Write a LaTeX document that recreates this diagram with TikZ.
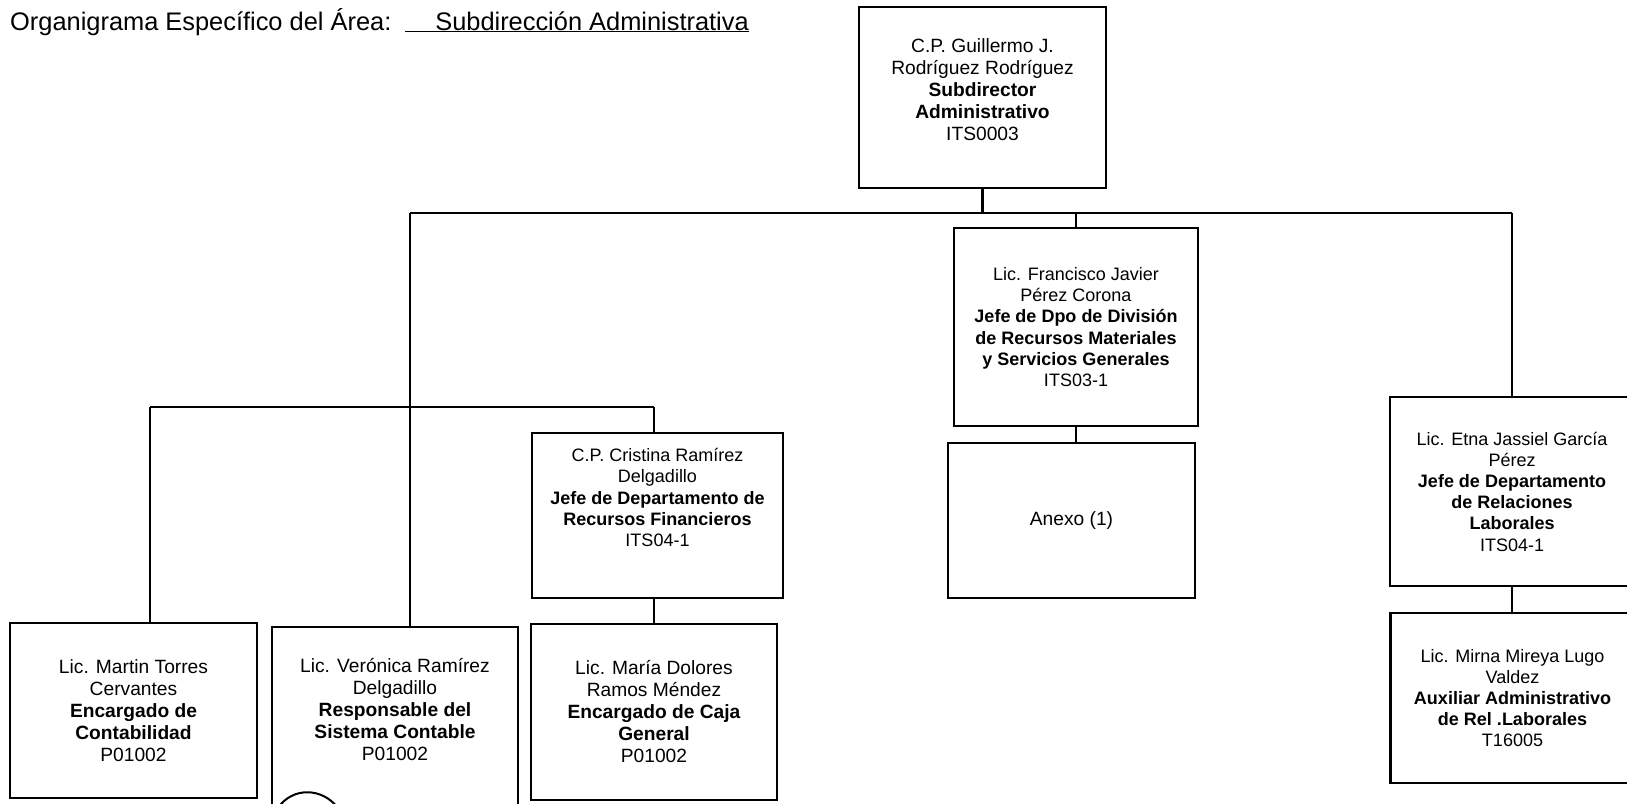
\documentclass[tikz,border=0pt]{standalone}
\usepackage{fontspec}
\setmainfont{Liberation Sans}
\begin{document}
\begin{tikzpicture}[x=1pt,y=-1pt,
  box/.style={draw=black, line width=2.7pt, rectangle, inner sep=0pt, align=center},
  conn/.style={draw=black, line width=1.9pt},
  fa/.style={font=\fontsize{19.2}{22}\selectfont},
  fb/.style={font=\fontsize{18}{21.2}\selectfont}]
\useasboundingbox (0,0) rectangle (1627,803);
\clip (0,0) rectangle (1627,803);
\fill[white] (0,0) rectangle (1627,803);

% title
\node[anchor=base west, inner sep=0pt, font=\fontsize{25.4}{30}\selectfont] (title) at (10,30)
  {Organigrama Específico del Área:\hspace{14pt}\underline{\hspace{30pt}Subdirección Administrativa}};

% boxes
\node[box, minimum width=247, minimum height=181] (top) at (982.5,97.5) {};
\node[fa, align=center] (toptxt) at (982.5,90) {C.P. Guillermo J.\\Rodríguez Rodríguez\\\textbf{Subdirector}\\\textbf{Administrativo}\\ITS0003};

\node[box, fb, minimum width=244, minimum height=198] (fran) at (1076,327)
  {Lic. Francisco Javier\\Pérez Corona\\\textbf{Jefe de Dpo de División}\\\textbf{de Recursos Materiales}\\\textbf{y Servicios Generales}\\ITS03-1};

\node[box, fa, minimum width=247, minimum height=155] (anexo) at (1071.5,520.5) {Anexo (1)};

\node[box, minimum width=251, minimum height=165] (cris) at (657.5,515.5) {};
\node[fb, align=center] (cristxt) at (657.5,497.5) {C.P. Cristina Ramírez\\Delgadillo\\\textbf{Jefe de Departamento de}\\\textbf{Recursos Financieros}\\ITS04-1};

\node[box, fa, minimum width=247, minimum height=175] (martin) at (133.5,710.5)
  {Lic. Martin Torres\\Cervantes\\\textbf{Encargado de}\\\textbf{Contabilidad}\\P01002};

\node[box, minimum width=246, minimum height=200] (veron) at (395,727) {};
\node[fa, align=center] (verontxt) at (395,710) {Lic. Verónica Ramírez\\Delgadillo\\\textbf{Responsable del}\\\textbf{Sistema Contable}\\P01002};

\node[box, fa, minimum width=246, minimum height=176] (caja) at (654,712)
  {Lic. María Dolores\\Ramos Méndez\\\textbf{Encargado de Caja}\\\textbf{General}\\P01002};

\node[box, fb, minimum width=244, minimum height=189] (etna) at (1512,491.5)
  {Lic. Etna Jassiel García\\Pérez\\\textbf{Jefe de Departamento}\\\textbf{de Relaciones}\\\textbf{Laborales}\\ITS04-1};

\node[box, fb, minimum width=244, minimum height=170] (mirna) at (1512.5,698)
  {Lic. Mirna Mireya Lugo\\Valdez\\\textbf{Auxiliar Administrativo}\\\textbf{de Rel .Laborales}\\T16005};

% connectors
\coordinate (b1) at (410,213);
\coordinate (b2) at (1512,213);
\coordinate (c1) at (150,407);
\coordinate (c2) at (654,407);
\draw[conn] (b1) -- (b2);
\draw[conn, line width=2.6pt] (top.south) -- (top.south |- b1);
\draw[conn] (fran.north |- b1) -- (fran.north);
\draw[conn] (b2) -- (etna.north -| b2);
\draw[conn] (b1) -- (veron.north -| b1);
\draw[conn] (c1) -- (c2);
\draw[conn] (c1) -- (martin.north -| c1);
\draw[conn] (c2) -- (cris.north -| c2);
\draw[conn] (cris.south -| caja.north) -- (caja.north);
\draw[conn] (fran.south) -- (fran.south |- anexo.north);
\draw[conn] (etna.south) -- (etna.south |- mirna.north);

% stamp arc fragment
\draw[line width=2pt] (278,808) .. controls (292,787) and (322,787) .. (338,808);
\end{tikzpicture}
\end{document}
